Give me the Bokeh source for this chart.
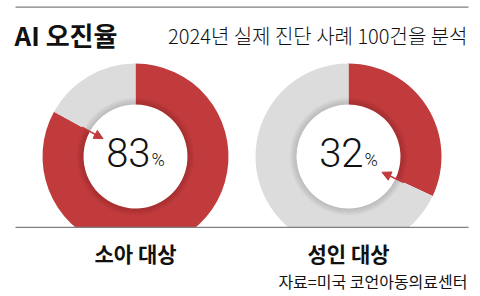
import math
from bokeh.plotting import figure
from bokeh.models import Range1d, ColumnDataSource, Arrow, NormalHead
from bokeh.core.properties import value
from bokeh.embed import file_html
from bokeh.resources import INLINE

# ---- data ----
groups = ["소아 대상", "성인 대상"]
error_rates = [83, 32]
title = "AI 오진율"
subtitle = "2024년 실제 진단 사례 100건을 분석"
source_note = "자료=미국 코언아동의료센터"

# ---- style / layout ----
W, H = 480, 296
RED = "#c13b3d"
GRAY = "#dcdcdc"
LINE = "#7f7f7f"
KR = "Noto Sans CJK KR"
LIGHT_NUM = "Roboto Light, Roboto"
LIGHT_KR = "Noto Sans CJK KR Light, Noto Sans CJK KR"
centers_x = [135, 348]
center_y_screen = 156
R_OUT, R_IN = 93, 52

def Y(s):
    return H - s

p = figure(width=W, height=H, x_range=Range1d(0, W), y_range=Range1d(0, H),
           output_backend="svg", toolbar_location=None, min_border=0,
           x_axis_location=None, y_axis_location=None)
p.title.visible = False
p.grid.visible = False
p.outline_line_color = None
p.background_fill_color = "white"
p.border_fill_color = "white"

cy = Y(center_y_screen)
ang = [math.radians(90 - v * 3.6) for v in error_rates]
top = math.radians(90)
src = ColumnDataSource(dict(
    x=centers_x, y=[cy] * len(groups), a=ang,
    top=[top] * len(groups), gend=[a + 2 * math.pi for a in ang],
))

# red = error share, clockwise from 12 o'clock
p.annular_wedge(x="x", y="y", inner_radius=R_IN, outer_radius=R_OUT,
                start_angle="a", end_angle="top", source=src,
                fill_color=RED, line_color=None)
p.annular_wedge(x="x", y="y", inner_radius=R_IN, outer_radius=R_OUT,
                start_angle="top", end_angle="gend", source=src,
                fill_color=GRAY, line_color=None)
# soft inner shadow
for i in range(7):
    p.annulus(x="x", y="y", inner_radius=R_IN, outer_radius=R_IN + 1 + i,
              source=src, fill_color="black", fill_alpha=0.018, line_color=None)

# hide the part below the divider line
p.quad(left=[0], right=[W], bottom=[0], top=[Y(227)], fill_color="white", line_color=None)

# divider lines (thin bars)
p.quad(left=[15, 15], right=[468, 468], bottom=[Y(7.3), Y(227.6)], top=[Y(6), Y(226.3)],
       fill_color=LINE, line_color=None)

# arrows along the boundary
r_tail, r_tip = 61, 37
arr = ColumnDataSource(dict(
    xs=[cx + r_tail * math.cos(a) for cx, a in zip(centers_x, ang)],
    ys=[cy + r_tail * math.sin(a) for a in ang],
    xe=[cx + r_tip * math.cos(a) for cx, a in zip(centers_x, ang)],
    ye=[cy + r_tip * math.sin(a) for a in ang],
))
p.add_layout(Arrow(source=arr, x_start="xs", y_start="ys", x_end="xe", y_end="ye",
                   line_color=RED, line_width=1.6,
                   end=NormalHead(size=9, fill_color=RED, line_color=RED)))

# percentages
num_src = ColumnDataSource(dict(
    x=[cx + 15 for cx in centers_x], y=[Y(152)] * len(groups),
    y2=[Y(159)] * len(groups),
    t=[str(v) for v in error_rates], pct=["%"] * len(groups),
))
p.text(x="x", y="y", text="t", source=num_src, text_align="right",
       text_baseline="middle", text_font=value(LIGHT_NUM),
       text_font_size="40px", text_color="#111111")
p.text(x="x", y="y2", text="pct", source=num_src, text_align="left",
       text_baseline="middle", text_font=value(LIGHT_NUM),
       text_font_size="18px", text_color="#111111", x_offset=1)

# group labels
p.text(x=centers_x, y=[Y(252)] * len(groups), text=groups, text_align="center",
       text_baseline="middle", text_font=value(KR), text_font_style="bold",
       text_font_size="21px", text_color="#111111")

# title / subtitle / source
p.text(x=[14], y=[Y(34)], text=[title], text_align="left", text_baseline="middle",
       text_font=value(KR), text_font_style="bold", text_font_size="26px",
       text_color="#111111")
p.text(x=[467], y=[Y(35)], text=[subtitle], text_align="right", text_baseline="middle",
       text_font=value(LIGHT_KR), text_font_size="20px", text_color="#111111")
p.text(x=[467], y=[Y(280)], text=[source_note], text_align="right", text_baseline="middle",
       text_font=value(KR), text_font_size="16px", text_color="#111111")

open("out.html", "w").write(file_html(p, INLINE))
